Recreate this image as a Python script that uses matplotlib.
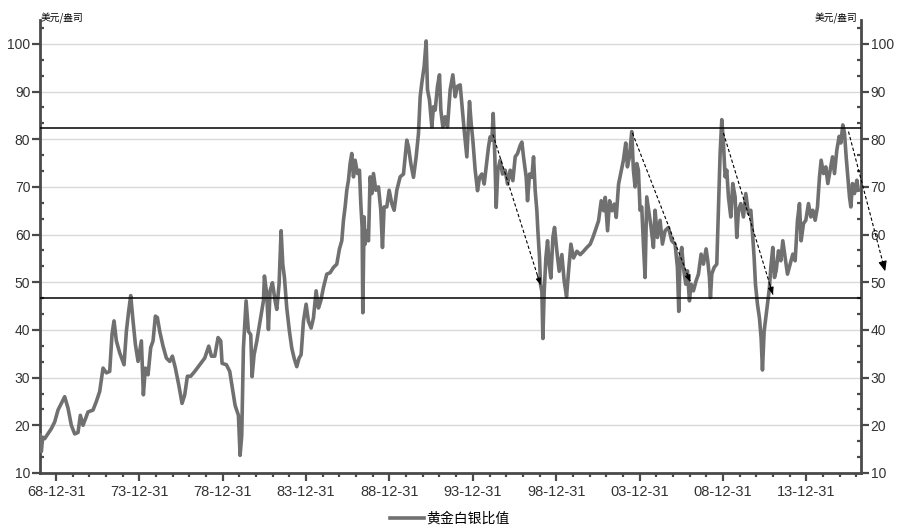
import matplotlib
matplotlib.use("Agg")
import matplotlib.pyplot as plt
from matplotlib.ticker import FixedLocator, MultipleLocator

plt.rcParams['font.family'] = ['Liberation Sans', 'Noto Sans CJK SC', 'DejaVu Sans']

# ---- data (decimal year, gold/silver ratio) ----
years = [
    1968.05, 1968.12, 1968.2, 1968.32, 1968.72, 1968.92, 1969.12, 1969.32, 1969.52, 1969.72,
    1969.92, 1970.12, 1970.32, 1970.46, 1970.62, 1970.92, 1971.22, 1971.42, 1971.62, 1971.82,
    1972.02, 1972.22, 1972.36, 1972.48, 1972.62, 1972.82, 1973.08, 1973.22, 1973.36, 1973.48,
    1973.62, 1973.76, 1973.92, 1974.12, 1974.24, 1974.36, 1974.52, 1974.68, 1974.82, 1974.96,
    1975.08, 1975.22, 1975.42, 1975.62, 1975.82, 1975.98, 1976.16, 1976.36, 1976.56, 1976.72,
    1976.88, 1977.08, 1977.32, 1977.62, 1977.92, 1978.16, 1978.32, 1978.52, 1978.72, 1978.88,
    1978.96, 1979.22, 1979.42, 1979.74, 1979.94, 1980.04, 1980.14, 1980.24, 1980.40, 1980.54,
    1980.68, 1980.76, 1980.88, 1981.04, 1981.24, 1981.44, 1981.50, 1981.64, 1981.74, 1981.84,
    1981.98, 1982.14, 1982.24, 1982.38, 1982.50, 1982.60, 1982.70, 1982.84, 1983.00, 1983.14,
    1983.28, 1983.44, 1983.58, 1983.70, 1983.84, 1984.00, 1984.14, 1984.30, 1984.44, 1984.60,
    1984.74, 1984.88, 1985.04, 1985.24, 1985.44, 1985.64, 1985.84, 1986.00, 1986.14, 1986.24,
    1986.34, 1986.44, 1986.54, 1986.64, 1986.74, 1986.84, 1986.94, 1987.08, 1987.20, 1987.28,
    1987.36, 1987.40, 1987.48, 1987.54, 1987.64, 1987.74, 1987.84, 1987.94, 1988.04, 1988.18,
    1988.34, 1988.48, 1988.58, 1988.68, 1988.84, 1988.98, 1989.14, 1989.28, 1989.44, 1989.64,
    1989.84, 1990.04, 1990.14, 1990.28, 1990.44, 1990.60, 1990.74, 1990.84, 1990.94, 1991.08,
    1991.20, 1991.28, 1991.40, 1991.54, 1991.64, 1991.74, 1991.88, 1992.00, 1992.08, 1992.20,
    1992.34, 1992.48, 1992.64, 1992.80, 1992.94, 1993.08, 1993.24, 1993.34, 1993.48, 1993.64,
    1993.80, 1993.90, 1994.00, 1994.14, 1994.28, 1994.40, 1994.54, 1994.68, 1994.80, 1994.94,
    1995.04, 1995.14, 1995.22, 1995.32, 1995.40, 1995.50, 1995.64, 1995.78, 1995.94, 1996.08,
    1996.24, 1996.40, 1996.54, 1996.68, 1996.84, 1996.94, 1997.04, 1997.20, 1997.28, 1997.40,
    1997.54, 1997.64, 1997.74, 1997.84, 1997.90, 1998.00, 1998.06, 1998.14, 1998.20, 1998.28,
    1998.38, 1998.48, 1998.58, 1998.68, 1998.80, 1998.90, 1999.04, 1999.18, 1999.34, 1999.48,
    1999.62, 1999.74, 1999.88, 2000.04, 2000.24, 2000.44, 2000.64, 2000.84, 2001.04, 2001.20,
    2001.34, 2001.54, 2001.70, 2001.84, 2001.94, 2002.08, 2002.20, 2002.34, 2002.48, 2002.60,
    2002.74, 2002.87, 2003.03, 2003.17, 2003.27, 2003.39, 2003.53, 2003.63, 2003.73, 2003.83,
    2003.93, 2004.03, 2004.13, 2004.23, 2004.33, 2004.43, 2004.57, 2004.69, 2004.83, 2004.93,
    2005.07, 2005.23, 2005.37, 2005.53, 2005.73, 2005.93, 2006.13, 2006.27, 2006.35, 2006.43,
    2006.53, 2006.63, 2006.77, 2006.87, 2006.99, 2007.09, 2007.23, 2007.39, 2007.53, 2007.69,
    2007.83, 2007.99, 2008.09, 2008.19, 2008.25, 2008.33, 2008.47, 2008.63, 2008.73, 2008.83,
    2008.93, 2009.03, 2009.13, 2009.23, 2009.33, 2009.47, 2009.59, 2009.73, 2009.83, 2009.93,
    2010.07, 2010.23, 2010.37, 2010.53, 2010.67, 2010.79, 2010.87, 2010.95, 2011.07, 2011.19,
    2011.29, 2011.37, 2011.47, 2011.57, 2011.67, 2011.79, 2011.87, 2011.99, 2012.09, 2012.19,
    2012.33, 2012.47, 2012.59, 2012.73, 2012.87, 2013.03, 2013.19, 2013.33, 2013.47, 2013.59,
    2013.69, 2013.83, 2013.97, 2014.13, 2014.27, 2014.39, 2014.53, 2014.67, 2014.79, 2014.89,
    2015.03, 2015.17, 2015.29, 2015.43, 2015.57, 2015.69, 2015.83, 2015.97, 2016.07, 2016.19,
    2016.29, 2016.39, 2016.49, 2016.59, 2016.67, 2016.77, 2016.89, 2017.03, 2017.12,
]
ratio = [
    18.0, 14.5, 17.5, 17.2, 19.3, 20.7, 23.2, 24.6, 26.0, 23.6,
    20.0, 18.2, 18.5, 22.1, 20.0, 22.8, 23.2, 25.0, 27.1, 32.0,
    31.0, 31.3, 39.1, 41.9, 37.7, 35.2, 32.7, 39.7, 44.0, 47.2,
    41.9, 37.0, 33.4, 37.7, 26.4, 32.0, 30.6, 36.3, 37.7, 42.9,
    42.6, 39.7, 36.6, 34.1, 33.4, 34.5, 32.0, 28.5, 24.6, 26.4,
    30.3, 30.3, 31.3, 32.7, 34.1, 36.6, 34.5, 34.5, 38.4, 37.7,
    33.0, 32.7, 31.3, 24.2, 22.1, 13.7, 17.9, 36.2, 46.1, 39.7,
    39.0, 30.2, 34.8, 37.6, 41.8, 46.1, 51.3, 47.5, 40.1, 48.2,
    49.9, 46.1, 44.3, 49.6, 60.8, 53.8, 51.0, 44.6, 39.7, 36.2,
    34.1, 32.3, 34.1, 34.8, 41.8, 45.4, 41.8, 40.4, 42.5, 48.2,
    44.6, 46.1, 48.9, 51.7, 52.0, 53.1, 53.8, 57.0, 58.7, 63.0,
    65.8, 69.3, 71.4, 74.9, 77.0, 72.1, 75.6, 72.8, 73.5, 66.5,
    61.5, 43.6, 63.7, 58.0, 60.8, 58.7, 72.1, 68.6, 72.8, 69.3,
    70.0, 65.1, 57.3, 65.8, 65.8, 69.3, 66.5, 65.1, 69.3, 72.1,
    72.7, 79.8, 78.4, 74.9, 72.0, 76.3, 81.2, 88.9, 91.8, 95.3,
    100.6, 90.4, 88.2, 82.6, 86.8, 86.1, 91.1, 93.5, 86.1, 82.6,
    84.7, 82.6, 90.4, 93.5, 88.9, 91.1, 91.4, 87.5, 81.9, 76.3,
    87.9, 83.3, 79.8, 73.5, 69.2, 72.0, 72.7, 70.6, 74.2, 78.4,
    80.5, 79.8, 85.4, 76.3, 65.7, 73.5, 75.6, 72.7, 73.5, 70.6,
    73.5, 71.3, 76.3, 77.0, 78.7, 79.4, 76.3, 72.0, 67.1, 72.7,
    72.0, 76.3, 69.2, 65.0, 60.8, 55.1, 49.5, 48.1, 38.2, 48.1,
    55.1, 58.7, 53.7, 50.9, 59.4, 61.5, 56.5, 52.3, 55.8, 50.2,
    47.0, 52.3, 58.0, 55.1, 56.5, 55.8, 56.5, 57.3, 58.0, 59.4,
    60.8, 62.9, 67.1, 65.0, 67.8, 60.8, 67.1, 65.0, 66.4, 63.6,
    70.6, 72.8, 75.6, 79.2, 74.2, 76.3, 81.6, 73.5, 70.0, 74.9,
    73.5, 65.1, 65.8, 58.0, 51.0, 67.9, 64.4, 61.5, 57.3, 65.1,
    59.4, 63.0, 58.0, 60.8, 61.5, 58.7, 58.0, 53.1, 43.9, 55.2,
    57.3, 53.1, 49.6, 52.4, 46.1, 49.6, 48.2, 50.3, 51.7, 55.9,
    53.8, 57.0, 54.5, 51.0, 46.8, 51.7, 53.1, 53.8, 65.1, 77.0,
    84.1, 79.2, 72.1, 73.5, 67.9, 63.7, 70.7, 67.9, 59.4, 65.1,
    66.5, 63.7, 68.6, 64.4, 65.1, 59.4, 55.2, 49.6, 45.4, 42.5,
    38.3, 31.6, 39.7, 42.5, 45.4, 48.9, 53.1, 57.3, 51.0, 52.4,
    56.6, 54.5, 58.7, 55.2, 51.7, 53.8, 55.9, 54.5, 63.0, 66.5,
    58.7, 62.3, 63.0, 66.5, 63.7, 65.1, 63.0, 65.8, 72.1, 75.6,
    72.8, 74.2, 70.7, 73.5, 76.3, 72.8, 77.7, 80.6, 79.2, 83.0,
    81.3, 76.3, 72.1, 67.9, 65.8, 70.7, 68.6, 71.4, 69.3,
]

tick_years = [1969, 1974, 1979, 1984, 1989, 1994, 1999, 2004, 2009, 2014]
tick_labels = ['68-12-31', '73-12-31', '78-12-31', '83-12-31', '88-12-31',
               '93-12-31', '98-12-31', '03-12-31', '08-12-31', '13-12-31']
y_ticks = [10, 20, 30, 40, 50, 60, 70, 80, 90, 100]

upper_level = 82.3
lower_level = 46.7

# dashed trend arrows: (start year, start value, end year, end value)
arrow_x0 = [1995.20, 2003.57, 2009.03, 2016.53]
arrow_y0 = [81.0, 81.3, 81.3, 81.6]
arrow_x1 = [1998.05, 2007.05, 2012.00, 2018.73]
arrow_y1 = [49.5, 50.0, 47.4, 52.3]
arrow_head_scale = [0.6, 0.7, 0.7, 1.0]

series_name = '黄金白银比值'
unit_label = '美元/盎司'

# ---- figure ----
fig = plt.figure(figsize=(9, 5.32), dpi=100)
ax = fig.add_axes([40 / 900, 1 - 473 / 532, 821 / 900, 453 / 532])

ax.plot(years, ratio, color='#707070', lw=2.6, label=series_name, zorder=3,
        solid_joinstyle='round')
ax.axhline(upper_level, color='black', lw=1.1, zorder=4)
ax.axhline(lower_level, color='black', lw=1.1, zorder=4)

for x0, y0, x1, y1, hs in zip(arrow_x0, arrow_y0, arrow_x1, arrow_y1, arrow_head_scale):
    ax.plot([x0, x1], [y0, y1], color='black', lw=0.8, ls=(0, (3, 2)),
            zorder=5, clip_on=False)
    xs = x1 - (x1 - x0) * 0.06
    ys = y1 - (y1 - y0) * 0.06
    ax.annotate('', xy=(x1, y1), xytext=(xs, ys), annotation_clip=False,
                arrowprops=dict(arrowstyle='-|>,head_length=%.2f,head_width=%.2f'
                                % (0.6 * hs, 0.25 * hs),
                                color='black', lw=0.8, shrinkA=0, shrinkB=0),
                zorder=5)

ax.set_xlim(1968.04, 2017.28)
ax.set_ylim(10, 105)

ax.xaxis.set_major_locator(FixedLocator(tick_years))
ax.set_xticklabels(tick_labels)
ax.xaxis.set_minor_locator(MultipleLocator(1))
ax.yaxis.set_major_locator(FixedLocator(y_ticks))
ax.yaxis.set_minor_locator(MultipleLocator(10 / 3))

ax.grid(axis='y', which='major', color='#d9d9d9', lw=1)
ax.set_axisbelow(True)

for s in ['left', 'right', 'bottom']:
    ax.spines[s].set_color('#4a4a4a')
    ax.spines[s].set_linewidth(2)
ax.spines['top'].set_visible(False)

ax.tick_params(axis='y', which='major', direction='out', length=6, width=1.6,
               color='#4a4a4a', labelcolor='#333333', left=True, right=True,
               labelleft=True, labelright=True, labelsize=10, pad=1)
ax.tick_params(axis='y', which='minor', direction='in', length=3, width=1.6,
               color='#4a4a4a', left=True, right=True)
ax.tick_params(axis='x', which='major', direction='out', length=6, width=1.6,
               color='#4a4a4a', labelcolor='#333333', labelsize=10.5, pad=3)
ax.tick_params(axis='x', which='minor', direction='out', length=3, width=1.6,
               color='#4a4a4a')

fig.text(41 / 900, 1 - 18 / 532, unit_label, fontsize=7, ha='left', va='center',
         family=['Noto Sans CJK SC', 'DejaVu Sans'])
fig.text(857 / 900, 1 - 18 / 532, unit_label, fontsize=7, ha='right', va='center',
         family=['Noto Sans CJK SC', 'DejaVu Sans'])

fig.legend(loc='center', bbox_to_anchor=(0.5, 1 - 519 / 532), frameon=False,
           handlelength=2.4, handletextpad=0.2,
           prop={'family': ['Noto Sans CJK SC', 'DejaVu Sans'], 'size': 10})

fig.savefig('out.png', dpi=100)
